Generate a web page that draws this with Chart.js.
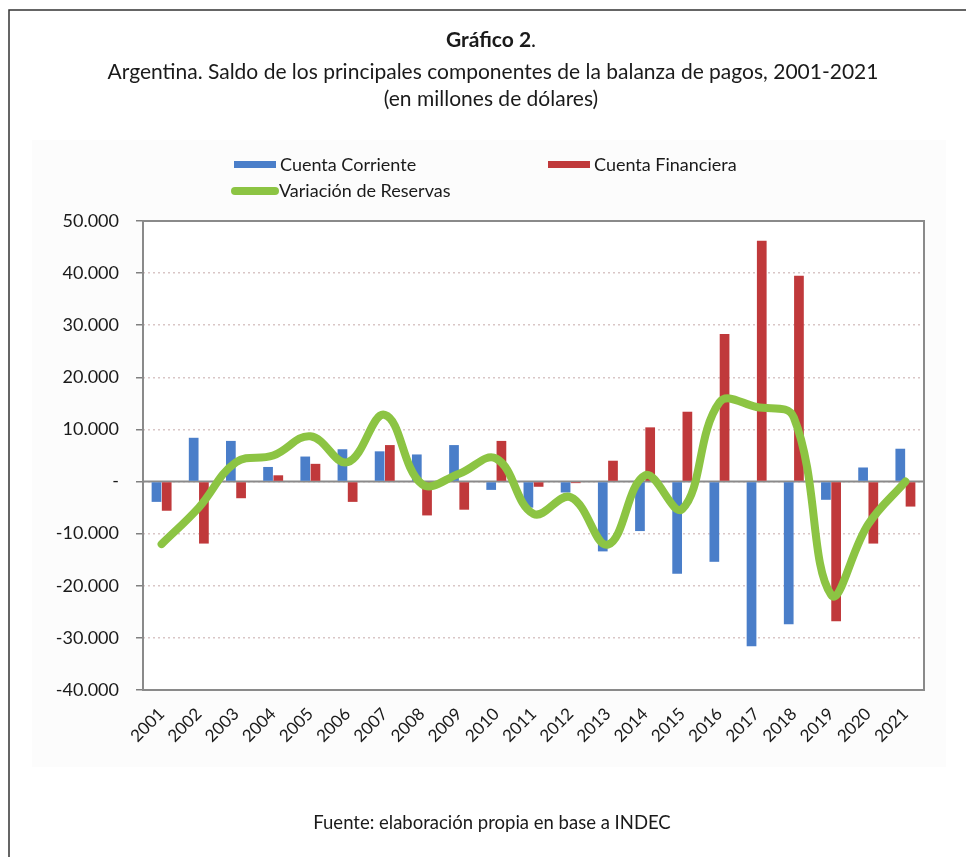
<!DOCTYPE html>
<html>
<head>
<meta charset="utf-8">
<script src="https://cdn.jsdelivr.net/npm/chart.js@4/dist/chart.umd.min.js"></script>
<style>
  html, body { margin: 0; padding: 0; background: #fff; }
  #wrap { width: 966px; height: 857px; position: relative; }
</style>
</head>
<body>
<div id="wrap"><canvas id="grafico"></canvas></div>
<script>
// Balanza de pagos Argentina 2001-2021 (millones de USD)
const anios = ["2001","2002","2003","2004","2005","2006","2007","2008","2009","2010",
  "2011","2012","2013","2014","2015","2016","2017","2018","2019","2020","2021"];
const cuentaCorriente = [-3900, 8400, 7800, 2800, 4800, 6200, 5800, 5200, 7000, -1600,
  -5000, -2100, -13400, -9500, -17700, -15400, -31600, -27400, -3500, 2700, 6300];
const cuentaFinanciera = [-5600, -11900, -3200, 1200, 3400, -3900, 7000, -6500, -5400, 7800,
  -1000, -300, 4000, 10400, 13400, 28300, 46200, 39500, -26800, -11900, -4800];
const variacionReservas = [-12000, -5000, 3700, 5000, 8700, 3700, 12800, -500, 1500, 4400,
  -6200, -3000, -12100, 1200, -5300, 15200, 14300, 12300, -21700, -8200, 0];
const yTicks = [50000, 40000, 30000, 20000, 10000, 0, -10000, -20000, -30000, -40000];

const AZUL = "#4a7ec9";
const ROJO = "#c0393b";
const VERDE = "#8cc443";
const FUENTE = "Lato, 'Open Sans', sans-serif";

function fmtMiles(v) {
  if (v === 0) return "-";
  const s = Math.abs(v).toString().replace(/\B(?=(\d{3})+(?!\d))/g, ".");
  return (v < 0 ? "-" : "") + s;
}

// textos, marco y leyenda
const decorado = {
  id: "decorado",
  beforeDraw(chart) {
    const ctx = chart.ctx;
    const a = chart.chartArea;
    ctx.save();
    ctx.fillStyle = "#ffffff";
    ctx.fillRect(0, 0, chart.width, chart.height);
    ctx.fillStyle = "#fcfcfc";
    ctx.fillRect(32, 140, 914, 627);
    ctx.fillStyle = "#ffffff";
    ctx.fillRect(a.left, a.top, a.right - a.left, a.bottom - a.top);

    // borde de la página
    ctx.strokeStyle = "#333";
    ctx.lineWidth = 1.5;
    ctx.beginPath();
    ctx.moveTo(9, 857);
    ctx.lineTo(9, 10);
    ctx.lineTo(966, 10);
    ctx.stroke();

    ctx.fillStyle = "#1a1a1a";
    ctx.textBaseline = "middle";
    ctx.font = "bold 21px " + FUENTE;
    const t1 = "Gráfico 2";
    const w1 = ctx.measureText(t1).width;
    ctx.font = "21px " + FUENTE;
    const wp = ctx.measureText(".").width;
    const x0 = 491 - (w1 + wp) / 2;
    ctx.textAlign = "left";
    ctx.font = "bold 21px " + FUENTE;
    ctx.fillText(t1, x0, 40);
    ctx.font = "21px " + FUENTE;
    ctx.fillText(".", x0 + w1, 40);
    ctx.textAlign = "center";
    ctx.fillText("Argentina. Saldo de los principales componentes de la balanza de pagos, 2001-2021", 493, 72);
    ctx.fillText("(en millones de dólares)", 491, 99);
    ctx.font = "18.5px " + FUENTE;
    ctx.fillText("Fuente: elaboración propia en base a INDEC", 492, 823);

    // leyenda
    ctx.font = "18px " + FUENTE;
    ctx.textAlign = "left";
    ctx.fillStyle = AZUL;
    ctx.fillRect(234, 161, 42, 7);
    ctx.fillStyle = ROJO;
    ctx.fillRect(548, 161, 42, 7);
    ctx.strokeStyle = VERDE;
    ctx.lineWidth = 8;
    ctx.lineCap = "round";
    ctx.beginPath();
    ctx.moveTo(235, 191);
    ctx.lineTo(275, 191);
    ctx.stroke();
    ctx.fillStyle = "#1a1a1a";
    ctx.fillText("Cuenta Corriente", 280, 165);
    ctx.fillText("Cuenta Financiera", 594, 165);
    ctx.fillText("Variación de Reservas", 279, 191);
    ctx.restore();
  },
  beforeDatasetsDraw(chart) {
    const ctx = chart.ctx;
    const a = chart.chartArea;
    const y0 = chart.scales.y.getPixelForValue(0);
    ctx.save();
    ctx.strokeStyle = "#8a8a8a";
    ctx.lineWidth = 2;
    ctx.beginPath();
    ctx.moveTo(a.left, y0);
    ctx.lineTo(a.right, y0);
    ctx.stroke();
    ctx.strokeRect(a.left, a.top, a.right - a.left, a.bottom - a.top);
    ctx.restore();
  }
};

new Chart(document.getElementById("grafico"), {
  type: "bar",
  data: {
    labels: anios,
    datasets: [
      {
        type: "line",
        label: "Variación de Reservas",
        data: variacionReservas,
        borderColor: VERDE,
        backgroundColor: VERDE,
        borderWidth: 8,
        tension: 0.4,
        pointRadius: 0,
        borderCapStyle: "round",
        borderJoinStyle: "round",
        order: 0
      },
      {
        label: "Cuenta Corriente",
        data: cuentaCorriente,
        backgroundColor: AZUL,
        categoryPercentage: 0.55,
        barPercentage: 0.95,
        order: 1
      },
      {
        label: "Cuenta Financiera",
        data: cuentaFinanciera,
        backgroundColor: ROJO,
        categoryPercentage: 0.55,
        barPercentage: 0.95,
        order: 1
      }
    ]
  },
  options: {
    responsive: true,
    maintainAspectRatio: false,
    animation: false,
    layout: { padding: { top: 221, right: 42, bottom: 0, left: 0 } },
    plugins: {
      legend: { display: false },
      title: { display: false },
      tooltip: { enabled: false }
    },
    scales: {
      x: {
        grid: { display: false },
        border: { display: false },
        afterFit: (s) => { s.height = 167; },
        ticks: {
          minRotation: 45,
          maxRotation: 45,
          padding: 6,
          color: "#1a1a1a",
          font: { family: FUENTE, size: 17 }
        }
      },
      y: {
        min: -40000,
        max: 50000,
        afterFit: (s) => { s.width = 143; },
        afterBuildTicks: (s) => { s.ticks = yTicks.map((v) => ({ value: v })); },
        border: { display: false, dash: [2, 3] },
        grid: {
          color: "#d9c6c6",
          lineWidth: 1.5,
          tickLength: 7,
          tickColor: "#808080",
          tickWidth: 1.5
        },
        ticks: {
          padding: 17,
          color: "#1a1a1a",
          font: { family: FUENTE, size: 18 },
          callback: (v) => fmtMiles(v)
        }
      }
    }
  },
  plugins: [decorado]
});
</script>
</body>
</html>
